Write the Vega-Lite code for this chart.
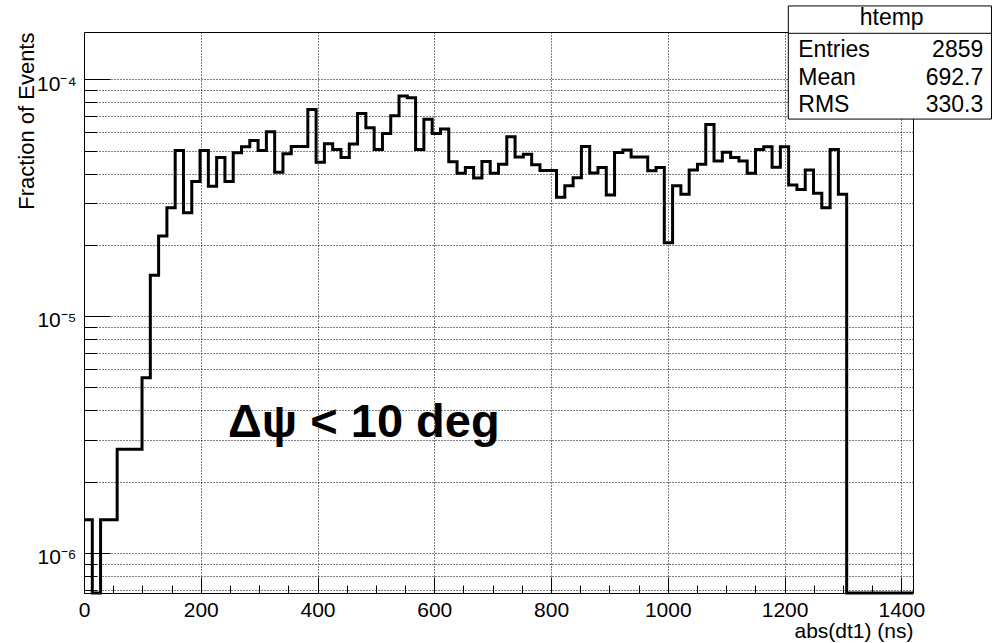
{
  "$schema": "https://vega.github.io/schema/vega-lite/v6.json",
  "width": 829,
  "height": 561,
  "autosize": {"type": "none"},
  "padding": {"left": 84, "top": 32, "right": 79, "bottom": 50},
  "background": "white",
  "config": {
    "font": "Liberation Sans",
    "view": {"stroke": "black", "strokeWidth": 1},
    "axis": {"domain": false, "labelColor": "black", "titleColor": "black", "tickColor": "black", "labelFont": "Liberation Sans", "titleFont": "Liberation Sans", "titleFontWeight": "normal"}
  },
  "resolve": {"scale": {"x": "independent", "y": "independent"}, "axis": {"x": "independent", "y": "independent"}},
  "layer": [
    {
      "data": {"values": [
        {"dt_low": 0, "fraction": 1.38e-6},
        {"dt_low": 14.2, "fraction": 0},
        {"dt_low": 28.4, "fraction": 1.38e-6},
        {"dt_low": 42.6, "fraction": 1.38e-6},
        {"dt_low": 56.8, "fraction": 2.74e-6},
        {"dt_low": 71, "fraction": 2.74e-6},
        {"dt_low": 85.2, "fraction": 2.74e-6},
        {"dt_low": 99.4, "fraction": 5.5e-6},
        {"dt_low": 113.6, "fraction": 1.49e-5},
        {"dt_low": 127.8, "fraction": 2.18e-5},
        {"dt_low": 142, "fraction": 2.87e-5},
        {"dt_low": 156.2, "fraction": 5.0e-5},
        {"dt_low": 170.4, "fraction": 2.73e-5},
        {"dt_low": 184.6, "fraction": 3.7e-5},
        {"dt_low": 198.8, "fraction": 5.0e-5},
        {"dt_low": 213, "fraction": 3.54e-5},
        {"dt_low": 227.2, "fraction": 4.68e-5},
        {"dt_low": 241.4, "fraction": 3.7e-5},
        {"dt_low": 255.6, "fraction": 4.9e-5},
        {"dt_low": 269.8, "fraction": 5.19e-5},
        {"dt_low": 284, "fraction": 5.52e-5},
        {"dt_low": 298.2, "fraction": 5.0e-5},
        {"dt_low": 312.4, "fraction": 6.0e-5},
        {"dt_low": 326.6, "fraction": 4.05e-5},
        {"dt_low": 340.8, "fraction": 4.85e-5},
        {"dt_low": 355, "fraction": 5.2e-5},
        {"dt_low": 369.2, "fraction": 5.2e-5},
        {"dt_low": 383.4, "fraction": 7.45e-5},
        {"dt_low": 397.6, "fraction": 4.47e-5},
        {"dt_low": 411.8, "fraction": 5.35e-5},
        {"dt_low": 426, "fraction": 5.05e-5},
        {"dt_low": 440.2, "fraction": 4.68e-5},
        {"dt_low": 454.4, "fraction": 5.33e-5},
        {"dt_low": 468.6, "fraction": 7.18e-5},
        {"dt_low": 482.8, "fraction": 6.25e-5},
        {"dt_low": 497, "fraction": 5.06e-5},
        {"dt_low": 511.2, "fraction": 5.91e-5},
        {"dt_low": 525.4, "fraction": 7.01e-5},
        {"dt_low": 539.6, "fraction": 8.5e-5},
        {"dt_low": 553.8, "fraction": 8.36e-5},
        {"dt_low": 568, "fraction": 5.06e-5},
        {"dt_low": 582.2, "fraction": 6.79e-5},
        {"dt_low": 596.4, "fraction": 5.91e-5},
        {"dt_low": 610.6, "fraction": 6.17e-5},
        {"dt_low": 624.8, "fraction": 4.49e-5},
        {"dt_low": 639, "fraction": 4.01e-5},
        {"dt_low": 653.2, "fraction": 4.24e-5},
        {"dt_low": 667.4, "fraction": 3.83e-5},
        {"dt_low": 681.6, "fraction": 4.5e-5},
        {"dt_low": 695.8, "fraction": 4.01e-5},
        {"dt_low": 710, "fraction": 4.38e-5},
        {"dt_low": 724.2, "fraction": 5.72e-5},
        {"dt_low": 738.4, "fraction": 4.7e-5},
        {"dt_low": 752.6, "fraction": 4.83e-5},
        {"dt_low": 766.8, "fraction": 4.36e-5},
        {"dt_low": 781, "fraction": 4.12e-5},
        {"dt_low": 795.2, "fraction": 4.12e-5},
        {"dt_low": 809.4, "fraction": 3.18e-5},
        {"dt_low": 823.6, "fraction": 3.55e-5},
        {"dt_low": 837.8, "fraction": 3.84e-5},
        {"dt_low": 852, "fraction": 5.21e-5},
        {"dt_low": 866.2, "fraction": 4.02e-5},
        {"dt_low": 880.4, "fraction": 4.24e-5},
        {"dt_low": 894.6, "fraction": 3.25e-5},
        {"dt_low": 908.8, "fraction": 4.91e-5},
        {"dt_low": 923, "fraction": 5.03e-5},
        {"dt_low": 937.2, "fraction": 4.7e-5},
        {"dt_low": 951.4, "fraction": 4.7e-5},
        {"dt_low": 965.6, "fraction": 4.11e-5},
        {"dt_low": 979.8, "fraction": 4.24e-5},
        {"dt_low": 994, "fraction": 2.04e-5},
        {"dt_low": 1008.2, "fraction": 3.55e-5},
        {"dt_low": 1022.4, "fraction": 3.27e-5},
        {"dt_low": 1036.6, "fraction": 4.14e-5},
        {"dt_low": 1050.8, "fraction": 4.38e-5},
        {"dt_low": 1065, "fraction": 6.45e-5},
        {"dt_low": 1079.2, "fraction": 4.52e-5},
        {"dt_low": 1093.4, "fraction": 4.92e-5},
        {"dt_low": 1107.6, "fraction": 4.68e-5},
        {"dt_low": 1121.8, "fraction": 4.52e-5},
        {"dt_low": 1136, "fraction": 4.01e-5},
        {"dt_low": 1150.2, "fraction": 5.06e-5},
        {"dt_low": 1164.4, "fraction": 5.19e-5},
        {"dt_low": 1178.6, "fraction": 4.25e-5},
        {"dt_low": 1192.8, "fraction": 5.19e-5},
        {"dt_low": 1207, "fraction": 3.58e-5},
        {"dt_low": 1221.2, "fraction": 3.43e-5},
        {"dt_low": 1235.4, "fraction": 4.14e-5},
        {"dt_low": 1249.6, "fraction": 3.3e-5},
        {"dt_low": 1263.8, "fraction": 2.87e-5},
        {"dt_low": 1278, "fraction": 5.06e-5},
        {"dt_low": 1292.2, "fraction": 3.27e-5},
        {"dt_low": 1306.4, "fraction": 0},
        {"dt_low": 1320.6, "fraction": 0},
        {"dt_low": 1334.8, "fraction": 0},
        {"dt_low": 1349, "fraction": 0},
        {"dt_low": 1363.2, "fraction": 0},
        {"dt_low": 1377.4, "fraction": 0},
        {"dt_low": 1391.6, "fraction": 0},
        {"dt_low": 1405.8, "fraction": 0},
        {"dt_low": 1420, "fraction": 0}
      ]},
      "mark": {"type": "line", "interpolate": "step-after", "color": "black", "strokeWidth": 3, "invalid": "show"},
      "encoding": {
        "x": {
          "field": "dt_low", "type": "quantitative",
          "scale": {"domain": [0, 1420], "nice": false, "zero": false},
          "axis": {
            "values": [0, 50, 100, 150, 200, 250, 300, 350, 400, 450, 500, 550, 600, 650, 700, 750, 800, 850, 900, 950, 1000, 1050, 1100, 1150, 1200, 1250, 1300, 1350, 1400],
            "orient": "bottom",
            "title": "abs(dt1) (ns)", "titleFontSize": 21, "titleAlign": "right", "titleBaseline": "alphabetic", "titleX": 829, "titleY": 44,
            "labelExpr": "datum.value % 200 === 0 ? format(datum.value, 'd') : ''",
            "labelFontSize": 21, "labelBaseline": "alphabetic", "labelPadding": 39, "labelFlush": false, "labelOverlap": false, "labelAngle": 0,
            "tickSize": {"condition": {"test": "datum.value % 200 === 0", "value": -16}, "value": -8},
            "tickWidth": 1,
            "grid": true, "gridDash": [1, 2], "gridColor": "black", "gridWidth": 1,
            "gridOpacity": {"condition": {"test": "datum.value % 200 === 0 && datum.value > 0", "value": 1}, "value": 0}
          }
        },
        "y": {
          "field": "fraction", "type": "quantitative",
          "scale": {"type": "log", "domain": [6.776e-7, 1.5843e-4], "nice": false, "clamp": true},
          "axis": {
            "values": [7e-7, 8e-7, 9e-7, 1e-6, 2e-6, 3e-6, 4e-6, 5e-6, 6e-6, 7e-6, 8e-6, 9e-6, 1e-5, 2e-5, 3e-5, 4e-5, 5e-5, 6e-5, 7e-5, 8e-5, 9e-5, 1e-4],
            "orient": "left",
            "title": "Fraction of Events", "titleFontSize": 22, "titleAngle": -90, "titleAlign": "right", "titleBaseline": "alphabetic", "titleX": -51, "titleY": 0,
            "labelExpr": "datum.value === 1e-4 ? '10⁻⁴' : datum.value === 1e-5 ? '10⁻⁵' : datum.value === 1e-6 ? '10⁻⁶' : ''",
            "labelFontSize": 21, "labelAlign": "right", "labelBaseline": "alphabetic", "labelPadding": 34, "labelOffset": 10.7, "labelFlush": false, "labelOverlap": false,
            "tickSize": {"condition": {"test": "datum.value === 1e-4 || datum.value === 1e-5 || datum.value === 1e-6", "value": -26}, "value": -12.7},
            "tickWidth": 1,
            "grid": true, "gridDash": [1, 2], "gridColor": "black", "gridWidth": 1
          }
        }
      }
    },
    {
      "layer": [
        {
          "data": {"values": [{}]},
          "mark": {"type": "rect", "fill": "white", "stroke": "black", "strokeWidth": 1},
          "encoding": {
            "x": {"datum": 1206.4, "type": "quantitative", "scale": {"domain": [0, 1420], "nice": false, "zero": false}, "axis": null},
            "x2": {"datum": 1554.4},
            "y": {"datum": 2.041e-4, "type": "quantitative", "scale": {"type": "log", "domain": [6.776e-7, 1.5843e-4], "nice": false}, "axis": null},
            "y2": {"datum": 6.795e-5}
          }
        },
        {
          "data": {"values": [{}]},
          "mark": {"type": "text", "text": "Δψ < 10 deg", "align": "left", "baseline": "alphabetic", "fontSize": 47, "fontWeight": "bold", "color": "black"},
          "encoding": {"x": {"datum": 246.7, "type": "quantitative"}, "y": {"datum": 3.09e-6, "type": "quantitative"}}
        },
        {
          "data": {"values": [{}]},
          "mark": {"type": "rule", "color": "black", "strokeWidth": 1},
          "encoding": {"x": {"datum": 1206.4, "type": "quantitative"}, "x2": {"datum": 1554.4}, "y": {"datum": 1.564e-4, "type": "quantitative"}}
        },
        {
          "data": {"values": [{}]},
          "mark": {"type": "text", "text": "htemp", "align": "center", "baseline": "alphabetic", "fontSize": 23, "color": "black"},
          "encoding": {"x": {"datum": 1383.5, "type": "quantitative"}, "y": {"datum": 1.703e-4, "type": "quantitative"}}
        },
        {
          "data": {"values": [{}]},
          "mark": {"type": "text", "text": "Entries", "align": "left", "baseline": "alphabetic", "fontSize": 23, "color": "black"},
          "encoding": {"x": {"datum": 1223.5, "type": "quantitative"}, "y": {"datum": 1.239e-4, "type": "quantitative"}}
        },
        {
          "data": {"values": [{}]},
          "mark": {"type": "text", "text": "2859", "align": "right", "baseline": "alphabetic", "fontSize": 23, "color": "black"},
          "encoding": {"x": {"datum": 1540.4, "type": "quantitative"}, "y": {"datum": 1.239e-4, "type": "quantitative"}}
        },
        {
          "data": {"values": [{}]},
          "mark": {"type": "text", "text": "Mean", "align": "left", "baseline": "alphabetic", "fontSize": 23, "color": "black"},
          "encoding": {"x": {"datum": 1223.5, "type": "quantitative"}, "y": {"datum": 9.46e-5, "type": "quantitative"}}
        },
        {
          "data": {"values": [{}]},
          "mark": {"type": "text", "text": "692.7", "align": "right", "baseline": "alphabetic", "fontSize": 23, "color": "black"},
          "encoding": {"x": {"datum": 1540.4, "type": "quantitative"}, "y": {"datum": 9.46e-5, "type": "quantitative"}}
        },
        {
          "data": {"values": [{}]},
          "mark": {"type": "text", "text": "RMS", "align": "left", "baseline": "alphabetic", "fontSize": 23, "color": "black"},
          "encoding": {"x": {"datum": 1223.5, "type": "quantitative"}, "y": {"datum": 7.255e-5, "type": "quantitative"}}
        },
        {
          "data": {"values": [{}]},
          "mark": {"type": "text", "text": "330.3", "align": "right", "baseline": "alphabetic", "fontSize": 23, "color": "black"},
          "encoding": {"x": {"datum": 1540.4, "type": "quantitative"}, "y": {"datum": 7.255e-5, "type": "quantitative"}}
        }
      ]
    }
  ]
}
